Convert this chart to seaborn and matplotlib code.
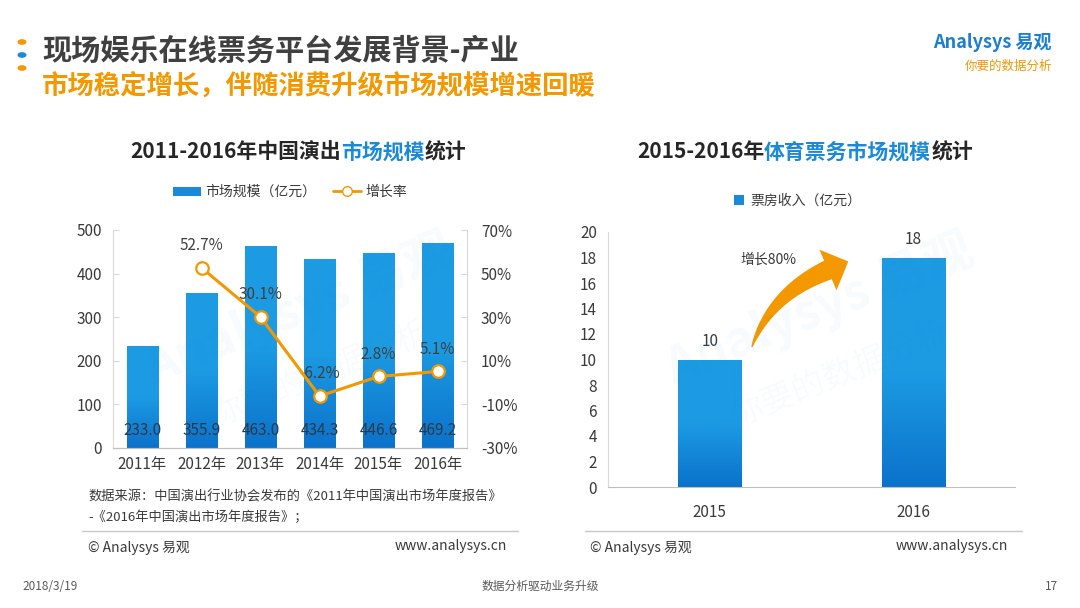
import numpy as np
import pandas as pd
import matplotlib
matplotlib.use("Agg")
import matplotlib.pyplot as plt
import seaborn as sns
from matplotlib.patches import Patch, Polygon
from matplotlib.lines import Line2D
from matplotlib.transforms import IdentityTransform

# ---------------- data ----------------
years = ['2011年', '2012年', '2013年', '2014年', '2015年', '2016年']
market_size = [233.0, 355.9, 463.0, 434.3, 446.6, 469.2]
growth_years = ['2012年', '2013年', '2014年', '2015年', '2016年']
growth_rate = [52.7, 30.1, -6.2, 2.8, 5.1]
left_ticks = [0, 100, 200, 300, 400, 500]
right_ticks = [-30, -10, 10, 30, 50, 70]

sport_years = ['2015', '2016']
sport_income = [10, 18]
sport_ticks = [0, 2, 4, 6, 8, 10, 12, 14, 16, 18, 20]

# ---------------- style ----------------
sns.set_style("white")
plt.rcParams['font.family'] = ['Noto Sans CJK SC', 'DejaVu Sans']
plt.rcParams['axes.unicode_minus'] = False

BLUE = '#1A8AD8'
BLUE_TOP = '#1C9BE3'
BLUE_BOT = '#0B72CB'
ORANGE = '#F39800'
DARK = '#3A3A3A'
GRAY = '#595959'
SPINE = '#D9D9D9'

W, H = 1080, 608
fig = plt.figure(figsize=(10.8, 6.08), dpi=100)
fig.patch.set_facecolor('white')


def fx(px):
    return px / W


def fy(py):
    return 1 - py / H


def gradient_bars(ax, patches):
    grad = np.linspace(0, 1, 256).reshape(-1, 1)
    cmap = matplotlib.colors.LinearSegmentedColormap.from_list('g', [BLUE_TOP, BLUE_TOP, BLUE_BOT])
    xl, yl = ax.get_xlim(), ax.get_ylim()
    for p in patches:
        x0, y0 = p.get_x(), p.get_y()
        w, h = p.get_width(), p.get_height()
        im = ax.imshow(grad, extent=[x0, x0 + w, y0, y0 + h], origin='upper',
                       aspect='auto', cmap=cmap, zorder=p.get_zorder())
        im.set_clip_path(p)
        p.set_facecolor('none')
        p.set_edgecolor('none')
    ax.set_xlim(xl)
    ax.set_ylim(yl)


# faint watermarks (behind everything)
for xc, yc in [(300, 330), (820, 330)]:
    fig.text(fx(xc), fy(yc - 20), 'Analysys 易观', fontsize=36, color='#1A8AD8', alpha=0.035,
             rotation=22, ha='center', va='center', fontweight='bold', zorder=0)
    fig.text(fx(xc + 20), fy(yc + 45), '你要的数据分析', fontsize=24, color='#1A8AD8', alpha=0.03,
             rotation=22, ha='center', va='center', zorder=0)

# ---------------- left chart ----------------
axL = fig.add_axes([fx(113), fy(448), fx(467 - 113), (448 - 230) / H])
axL.patch.set_alpha(0)
dfL = pd.DataFrame({'year': years, 'size': market_size})
sns.barplot(data=dfL, x='year', y='size', ax=axL, color=BLUE, width=0.54,
            saturation=1, zorder=2)
axL.set_xlim(-0.5, 5.5)
axL.set_ylim(0, 500)
axL.set_yticks(left_ticks)
axL.set_xlabel('')
axL.set_ylabel('')
gradient_bars(axL, axL.patches)
for i, v in enumerate(market_size):
    axL.text(i, 41, f'{v:.1f}', ha='center', va='center', fontsize=11,
             color='#2B3A4A', zorder=5)

axR = axL.twinx()
dfG = pd.DataFrame({'pos': [years.index(y) for y in growth_years], 'g': growth_rate})
sns.lineplot(data=dfG, x='pos', y='g', ax=axR, color=ORANGE, linewidth=2.2,
             marker='o', markersize=9, markerfacecolor='white',
             markeredgecolor=ORANGE, markeredgewidth=1.6, zorder=4)
axR.set_ylim(-30, 70)
axR.set_yticks(right_ticks)
axR.set_yticklabels([f'{t}%' for t in right_ticks])
axR.set_xlabel('')
axR.set_ylabel('')
axR.set_xlim(-0.5, 5.5)
for p, g in zip(dfG['pos'], growth_rate):
    axR.annotate(f'{g}%', (p, g), xytext=(0, 16), textcoords='offset points',
                 ha='center', va='center', fontsize=11, color='#404040')

for ax in (axL, axR):
    ax.spines['top'].set_visible(False)
    ax.spines['left'].set_color(SPINE)
    ax.spines['right'].set_color(SPINE)
    ax.spines['bottom'].set_color('#BFBFBF')
    ax.tick_params(axis='y', labelsize=11, colors=SPINE, labelcolor=DARK,
                   direction='in', length=4, pad=8)
axL.tick_params(axis='x', labelsize=11, labelcolor=DARK, length=0, pad=6)
axR.spines['left'].set_visible(False)
axL.spines['right'].set_visible(False)
axR.tick_params(axis='y', pad=10)

# ---------------- right chart ----------------
axS = fig.add_axes([fx(608), fy(487), fx(1015 - 608), (487 - 232) / H])
axS.patch.set_alpha(0)
dfS = pd.DataFrame({'year': sport_years, 'income': sport_income})
sns.barplot(data=dfS, x='year', y='income', ax=axS, color=BLUE, width=0.31,
            saturation=1, zorder=2)
axS.set_xlim(-0.5, 1.5)
axS.set_ylim(0, 20)
axS.set_yticks(sport_ticks)
axS.set_xlabel('')
axS.set_ylabel('')
gradient_bars(axS, axS.patches)
for i, v in enumerate(sport_income):
    axS.annotate(f'{v}', (i, v), xytext=(0, 13), textcoords='offset points',
                 ha='center', va='center', fontsize=11, color=DARK)
axS.spines['top'].set_visible(False)
axS.spines['right'].set_visible(False)
axS.spines['left'].set_color(SPINE)
axS.spines['bottom'].set_color('#BFBFBF')
axS.tick_params(axis='y', labelsize=11, colors=SPINE, labelcolor=DARK,
                direction='in', length=4, pad=8)
axS.tick_params(axis='x', labelsize=11, labelcolor=DARK, length=0, pad=12)


# curved, tapered growth arrow (annotation), defined in data coords of axS
def tapered_arrow(ax, p0, p1, p2, w_end=20, head_w=44, head_len=22, color=ORANGE):
    P0, P1, P2 = (ax.transData.transform(p) for p in (p0, p1, p2))
    t = np.linspace(0, 1, 60)[:, None]
    pts = (1 - t) ** 2 * P0 + 2 * (1 - t) * t * P1 + t ** 2 * P2
    der = 2 * (1 - t) * (P1 - P0) + 2 * t * (P2 - P1)
    u = der / np.linalg.norm(der, axis=1, keepdims=True)
    nrm = np.column_stack([-u[:, 1], u[:, 0]])
    hw = (1.0 + (w_end - 1.0) * t[:, 0] ** 0.8)[:, None] / 2
    left = pts + nrm * hw
    right = pts - nrm * hw
    ue, ne = u[-1], nrm[-1]
    head = [P2 + ne * head_w / 2, P2 + ue * head_len, P2 - ne * head_w / 2]
    poly = np.vstack([left, head, right[::-1]])
    ax.add_patch(Polygon(poly, closed=True, transform=IdentityTransform(),
                         facecolor=color, edgecolor='none', zorder=6))


tapered_arrow(axS, (0.207, 10.98), (0.300, 15.14), (0.581, 17.02))
axS.text(0.29, 17.8, '增长80%', ha='center', va='center', fontsize=10, color=DARK)

# ---------------- titles & texts ----------------
r = fig.canvas.get_renderer()


def multi_text(xc_px, y_px, parts, **kw):
    objs, widths = [], []
    for s, c in parts:
        t = fig.text(0, fy(y_px), s, color=c, va='center', ha='left', **kw)
        objs.append(t)
        widths.append(t.get_window_extent(r).width)
    x = xc_px - sum(widths) / 2
    for t, w in zip(objs, widths):
        t.set_x(fx(x))
        x += w


multi_text(298, 152, [('2011-2016年中国演出', '#262626'), ('市场规模', BLUE), ('统计', '#262626')],
           fontsize=15, fontweight='bold')
multi_text(805, 152, [('2015-2016年', '#262626'), ('体育票务市场规模', BLUE), ('统计', '#262626')],
           fontsize=15, fontweight='bold')

fig.text(fx(42), fy(51), '现场娱乐在线票务平台发展背景-产业', fontsize=21, fontweight='bold',
         color='#404040', va='center', ha='left')
fig.text(fx(42), fy(86), '市场稳定增长，伴随消费升级市场规模增速回暖', fontsize=19, fontweight='bold',
         color=ORANGE, va='center', ha='left')
for yy, c in [(42, ORANGE), (55, '#1A8AD8'), (68, ORANGE)]:
    fig.patches.append(matplotlib.patches.Circle((fx(22), fy(yy)), 0.0035, transform=fig.transFigure,
                                                 color=c, figure=fig))

fig.text(fx(1052), fy(43), 'Analysys 易观', fontsize=13, color='#1A7FD0', fontweight='bold',
         ha='right', va='center', style='italic')
fig.text(fx(1052), fy(66), '你要的数据分析', fontsize=9, color=ORANGE, ha='right', va='center',
         style='italic')

# legends
hL = [Patch(facecolor=BLUE, edgecolor='none'),
      Line2D([0], [0], color=ORANGE, lw=2, marker='o', markersize=7,
             markerfacecolor='white', markeredgecolor=ORANGE)]
fig.legend(hL, ['市场规模（亿元）', '增长率'], loc='center', bbox_to_anchor=(fx(290), fy(192)),
           ncol=2, frameon=False, fontsize=10, handlelength=2.0, handleheight=0.6,
           columnspacing=1.2, handletextpad=0.3, labelcolor=DARK)
hS = [Patch(facecolor=BLUE, edgecolor='none')]
fig.legend(hS, ['票房收入（亿元）'], loc='center', bbox_to_anchor=(fx(798), fy(201)),
           frameon=False, fontsize=10, handlelength=0.7, handleheight=0.7,
           handletextpad=0.5, labelcolor=DARK)

# source + footers
fig.text(fx(88), fy(497), '数据来源：中国演出行业协会发布的《2011年中国演出市场年度报告》',
         fontsize=9.5, color=DARK, va='center')
fig.text(fx(88), fy(517), '-《2016年中国演出市场年度报告》；', fontsize=9.5, color=DARK, va='center')
for x0, x1 in [(82, 518), (585, 1022)]:
    fig.add_artist(Line2D([fx(x0), fx(x1)], [fy(531), fy(531)], color='#C8C8C8', lw=1,
                          transform=fig.transFigure))
for xl, xr in [(88, 507), (590, 1008)]:
    fig.text(fx(xl), fy(548), '© Analysys 易观', fontsize=10, color=DARK, va='center')
    fig.text(fx(xr), fy(546), 'www.analysys.cn', fontsize=10, color=DARK, va='center', ha='right')

fig.text(fx(22), fy(586), '2018/3/19', fontsize=8.5, color=GRAY, va='center')
fig.text(0.5, fy(586), '数据分析驱动业务升级', fontsize=8.5, color=GRAY, va='center', ha='center')
fig.text(fx(1058), fy(586), '17', fontsize=8.5, color=GRAY, va='center', ha='right')

fig.savefig('out.png', dpi=100, facecolor='white')
